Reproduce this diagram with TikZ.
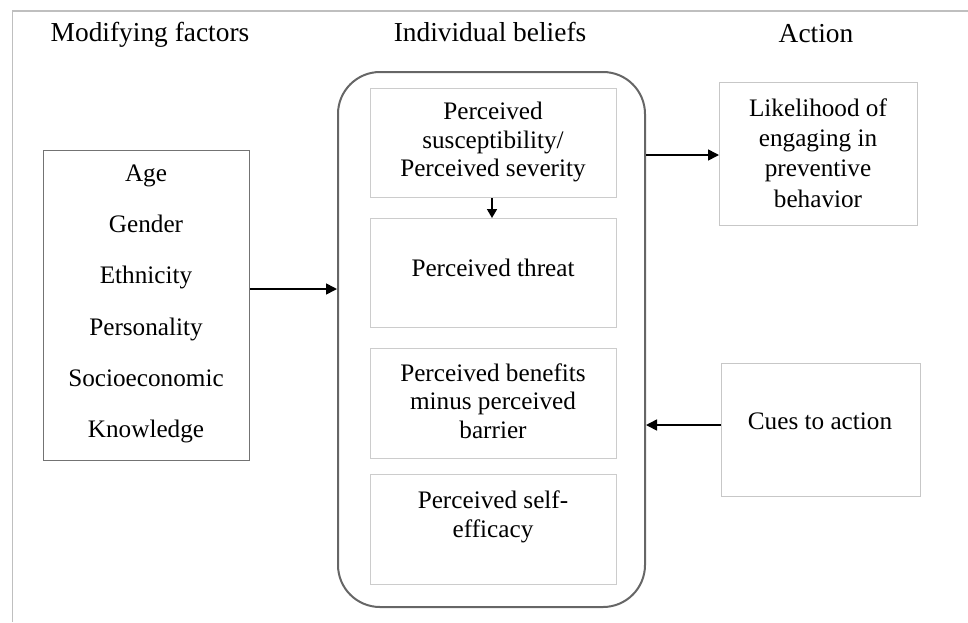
\documentclass[tikz,border=0pt]{standalone}
\usepackage{fontspec}
\setmainfont{Liberation Serif}
\usetikzlibrary{arrows.meta}
\begin{document}
\begin{tikzpicture}[x=1pt,y=-1pt,
  title/.style={font=\fontsize{27.4}{30}\selectfont, anchor=base},
  txt/.style={font=\fontsize{25.2}{28.5}\selectfont, align=center, inner sep=0pt},
  fixed/.style={text height=17pt, text depth=6pt},
  inbox/.style={draw=black!20, line width=1pt, minimum width=246pt, anchor=north west, inner sep=0pt},
  actbox/.style={draw=black!22, line width=1pt, anchor=north west, inner sep=0pt},
  arr/.style={line width=1.6pt, -{Triangle[length=11pt,width=11pt]}},
  arrs/.style={line width=1.6pt, -{Triangle[length=9pt,width=10pt]}}
]
\useasboundingbox (0,0) rectangle (968,622);
% frame lines
\draw[black!25, line width=1.8pt] (968,11) -- (12.5,11) -- (12.5,622);
% titles
\node[title] (t1) at (150,41) {Modifying factors};
\node[title] (t2) at (490,41) {Individual beliefs};
\node[title] (t3) at (816,42) {Action};
% left box
\node[draw=black!55, line width=1pt, anchor=north west, minimum width=206pt, minimum height=310pt, inner sep=0pt] (mod) at (43,150) {};
\foreach \t [count=\i] in {Age,Gender,Ethnicity,Personality,Socioeconomic,Knowledge}
  \node[txt, fixed] (m\i) at (146,{176+(\i-1)*51.2}) {\t};
% big rounded box
\node[draw=black!60, line width=2pt, rounded corners=42pt, anchor=north west, minimum width=307pt, minimum height=535pt, inner sep=0pt] (ib) at (337,71) {};
% inner boxes
\node[inbox, minimum height=109pt] (b1) at (370,88) {};
\node[txt] (b1t) at (493,142) {Perceived\\susceptibility/\\Perceived severity};
\node[inbox, minimum height=109pt] (b2) at (370,218) {};
\node[txt] (b2t) at (493,268) {Perceived threat};
\node[inbox, minimum height=110pt] (b3) at (370,348) {};
\node[txt] (b3t) at (493,401) {Perceived benefits\\minus perceived\\barrier};
\node[inbox, minimum height=110pt] (b4) at (370,474) {};
\node[txt] (b4t) at (493,517) {Perceived self-\\efficacy};
% action boxes
\node[actbox, minimum width=198pt, minimum height=143pt] (a1) at (719,82) {};
\node[txt, font=\fontsize{25.2}{30.2}\selectfont] (a1t) at (818,153) {Likelihood of\\engaging in\\preventive\\behavior};
\node[actbox, minimum width=199pt, minimum height=133pt] (a2) at (721,363) {};
\node[txt] (a2t) at (820,421) {Cues to action};
% arrows
\draw[arr] (mod.east |- 0,289) -- (ib.west |- 0,289);
\draw[arrs] (b1.south -| 492,0) -- (b2.north -| 492,0);
\draw[arr] (ib.east |- 0,155) -- (a1.west |- 0,155);
\draw[arr] (a2.west |- 0,425) -- (ib.east |- 0,425);
\end{tikzpicture}
\end{document}
